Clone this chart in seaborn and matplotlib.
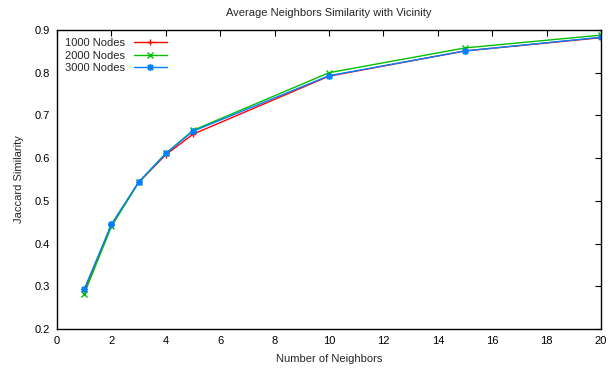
import numpy as np
import pandas as pd
import matplotlib
matplotlib.use("Agg")
import matplotlib.pyplot as plt
import seaborn as sns

neighbors = [1, 2, 3, 4, 5, 10, 15, 20]
nodes_1000 = [0.288, 0.443, 0.543, 0.608, 0.656, 0.792, 0.851, 0.882]
nodes_2000 = [0.282, 0.440, 0.543, 0.611, 0.665, 0.800, 0.858, 0.888]
nodes_3000 = [0.293, 0.445, 0.544, 0.611, 0.663, 0.793, 0.851, 0.883]
series_names = ["1000 Nodes", "2000 Nodes", "3000 Nodes"]
x_ticks = [0, 2, 4, 6, 8, 10, 12, 14, 16, 18, 20]
y_ticks = [0.2, 0.3, 0.4, 0.5, 0.6, 0.7, 0.8, 0.9]

df = pd.DataFrame({
    "Neighbors": neighbors * 3,
    "Similarity": nodes_1000 + nodes_2000 + nodes_3000,
    "Series": [s for s in series_names for _ in neighbors],
})

sns.set_style("white")
plt.rcParams["font.family"] = ["Liberation Sans", "DejaVu Sans"]

fig = plt.figure(figsize=(6.08, 3.71), dpi=100)
ax = fig.add_axes([57/608, 1-329/371, (601-57)/608, (329-30)/371])

palette = {"1000 Nodes": "#ff0000", "2000 Nodes": "#00c000", "3000 Nodes": "#0080ff"}
markers = {"1000 Nodes": "+", "2000 Nodes": "x", "3000 Nodes": (8, 2, 0)}
sns.lineplot(data=df, x="Neighbors", y="Similarity", hue="Series", style="Series",
             palette=palette, markers=markers, dashes=False, ax=ax,
             linewidth=1.0, markersize=5, legend=False)

for line in ax.lines:
    c = line.get_color()
    line.set_markeredgecolor(c)
    line.set_markerfacecolor(c)
    line.set_markeredgewidth(1.0)

ax.set_xlim(0, 20)
ax.set_ylim(0.2, 0.9)
ax.set_xticks(x_ticks)
ax.set_yticks(y_ticks)
ax.set_xticklabels([str(t) for t in x_ticks])
ax.set_yticklabels([f"{t:.1f}" for t in y_ticks])
ax.tick_params(direction="in", length=4, width=0.8, top=True, right=True,
               labelsize=8, pad=5, colors="black")
for s in ax.spines.values():
    s.set_color("black")
    s.set_linewidth(1.0)
    s.set_visible(True)

ax.set_xlabel("Number of Neighbors", fontsize=8, labelpad=6)
ax.set_ylabel("Jaccard Similarity", fontsize=8, labelpad=8)
ax.set_title("Average Neighbors Similarity with Vicinity", fontsize=8, pad=10)

handles = ax.lines[:3]
leg = ax.legend(handles, series_names, loc="upper left", frameon=False, fontsize=8,
                markerfirst=False, handlelength=3.0, handletextpad=0.8,
                labelspacing=0.25, borderaxespad=0.3)

fig.savefig("out.png", dpi=100)
